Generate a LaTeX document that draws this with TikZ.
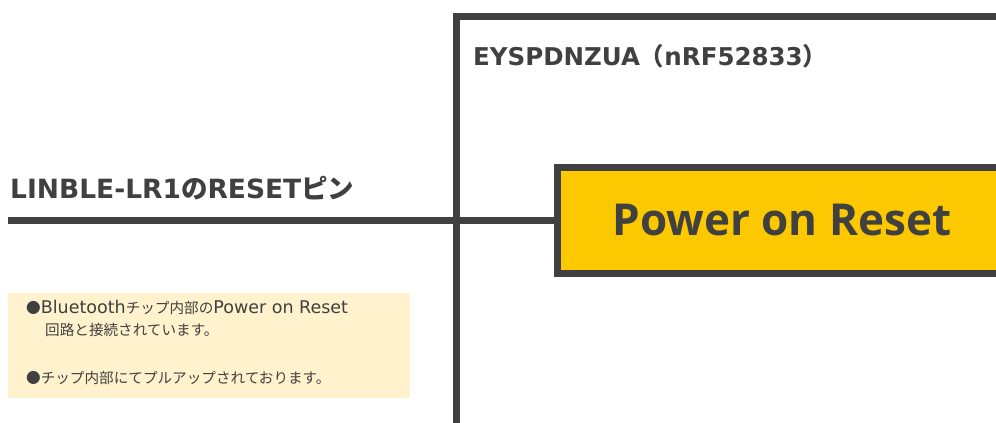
\documentclass[tikz,border=0pt]{standalone}
\usepackage{fontspec}
\setmainfont{Noto Sans CJK JP}
\newfontfamily\latfont{DejaVu Sans}
\newfontfamily\osfont{Open Sans}
\newcommand\notelat[1]{{\latfont\fontsize{17.5}{20}\selectfont #1}}
\definecolor{ink}{HTML}{404040}
\definecolor{gold}{HTML}{FCC800}
\definecolor{notefill}{HTML}{FFF2CC}
\begin{document}
\begin{tikzpicture}[x=1pt,y=-1pt,
  thick line/.style={draw=ink,line width=7pt},
  txt/.style={inner sep=0pt,text=ink,anchor=base west},
  notetxt/.style={txt,font=\fontsize{14.6}{17}\selectfont}]
\clip (0,0) rectangle (996,423);
\fill[white] (0,0) rectangle (996,423);
% chip frame
\draw[thick line,line join=miter] (1010,16) -- (456,16) -- (456,440);
\node[txt,font=\fontsize{24.5}{28}\bfseries\selectfont] (chip) at (473,65) {{\latfont EYSPDNZUA}（{\latfont nRF52833}）};
% power on reset block
\node[thick line,fill=gold,minimum width=450pt,minimum height=106pt,inner sep=0pt,
  text=ink,font=\osfont\fontsize{44}{48}\bfseries\selectfont] (por) at (782,220) {Power on Reset};
% pin line
\coordinate (pinstart) at (8,220);
\draw[thick line] (pinstart) -- (por.west);
\node[txt,font=\fontsize{26.5}{30}\bfseries\selectfont] (pin) at (10,198) {{\latfont LINBLE-LR1}の{\latfont RESET}ピン};
% note
\node[fill=notefill,minimum width=402pt,minimum height=105pt,inner sep=0pt,anchor=north west] (note) at (8,293) {};
\node[notetxt] (n1) at (26,313) {●\notelat{Bluetooth}チップ内部の\notelat{Power on Reset}};
\node[notetxt] (n2) at (45,335) {回路と接続されています。};
\node[notetxt] (n3) at (26,383) {●チップ内部にてプルアップされております。};
\end{tikzpicture}
\end{document}
